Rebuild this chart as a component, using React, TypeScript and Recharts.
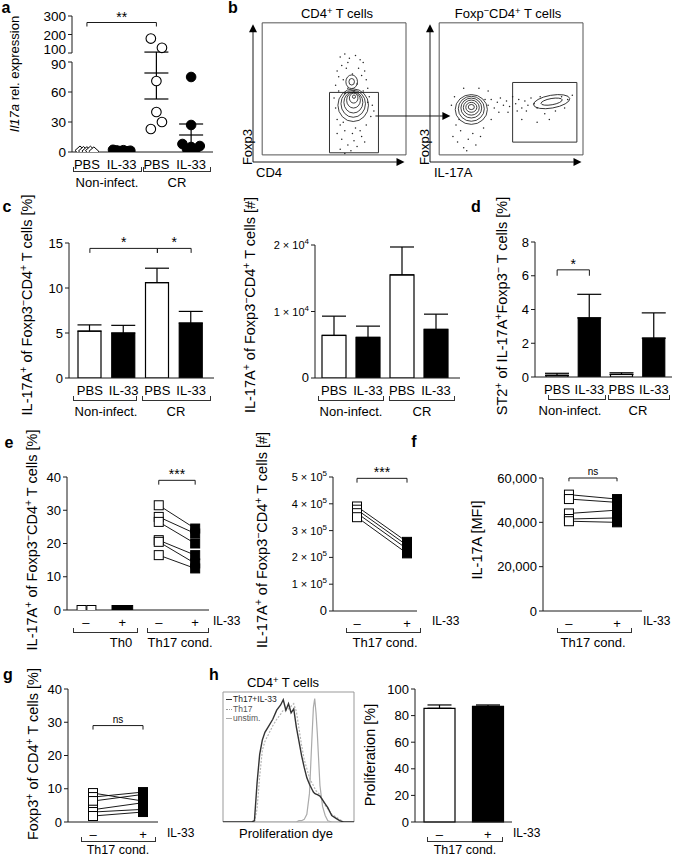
import React from 'react';
import {
  BarChart, Bar, ScatterChart, Scatter, LineChart, Line, XAxis, YAxis,
  ErrorBar, ReferenceLine, ReferenceArea, ReferenceDot, Cell,
} from 'recharts';

const FONT = '"Liberation Sans", Arial, Helvetica, sans-serif';
const INK = '#1a1a1a';
const tickStyle = { fill: '#000', fontSize: 13, fontFamily: FONT };
const catStyle = { fill: '#000', fontSize: 13, fontFamily: FONT };

// ---------------- panel a ----------------
const aCats = ['PBS', 'IL-33', 'PBS', 'IL-33'];
const aNonPBS = [1.5, 1.0, 0.8, 1.3, 0.6];
const aNonPBSOff = [-0.2, -0.1, 0, 0.1, 0.2];
const aNonIL33 = [2.2, 1.6, 1.0, 1.8, 0.8, 1.3];
const aNonIL33Off = [-0.25, -0.15, -0.05, 0.05, 0.15, 0.25];
const aCrPBS = [178, 128, 71, 40, 30, 23];
const aCrPBSOff = [-0.16, 0.16, 0, 0, 0.16, -0.16];
const aCrIL33 = [75, 27, 8, 6, 5, 3, 2];
const aCrIL33Off = [0, 0, -0.25, 0.25, 0, -0.12, 0.12];
const aMeans = [79, 17];
const aSems = [26, 11];
const aTicks = [0, 30, 60, 90, 100, 200, 300];

// ---------------- panel b (flow) ----------------
const bLeftDots = [
  [57, 74], [60, 76], [63, 73], [67, 75], [70, 72], [72, 70], [58, 68], [55, 64], [61, 66], [69, 66],
  [73, 64], [56, 60], [74, 58], [71, 61], [59, 58], [68, 55], [62, 52], [66, 50], [54, 54], [75, 52],
  [53, 45], [54, 38], [55, 30], [78, 40], [77, 32], [76, 46], [57, 26], [74, 26], [60, 22], [70, 22],
  [65, 20], [58, 16], [62, 12], [66, 15], [71, 18], [57, 9], [64, 8], [68, 11], [60, 6], [55, 20],
  [73, 14], [79, 36], [62, 70], [65, 62], [60, 48], [72, 50], [56, 50], [75, 42], [59, 28], [67, 24],
];
const bLeftRings = [
  [65.5, 40, 10, 11.5], [65.5, 41, 8, 9.5], [65.6, 42, 6.2, 7.5], [65.7, 43.5, 4.5, 5.5],
  [65.8, 45, 2.8, 3.5], [66, 46, 1, 1.2], [64.5, 56.5, 3.8, 4.8], [64.5, 56.5, 1.8, 2.3],
];
const bRightDots = [
  [38, 40], [40, 44], [42, 38], [44, 42], [46, 45], [48, 40], [50, 43], [52, 39], [54, 46], [56, 41],
  [58, 44], [60, 38], [62, 43], [64, 40], [66, 45], [45, 35], [51, 35], [57, 36], [63, 36], [68, 41],
  [15, 18], [18, 14], [20, 22], [22, 10], [25, 16], [28, 20], [30, 12], [33, 18], [17, 26], [35, 24],
  [24, 8], [19, 30], [70, 38], [72, 46], [86, 46], [90, 44], [75, 34], [82, 36], [88, 38], [93, 47],
  [78, 30], [70, 28], [60, 30], [14, 40], [16, 46], [40, 30], [38, 50], [22, 52], [32, 52], [36, 44],
];
const bRightRings = [
  [27, 37, 10.5, 10.5, 0], [27, 37.5, 8.5, 8.8, 0], [27, 38, 6.8, 7, 0], [27, 38.3, 5.2, 5.3, 0],
  [27, 38.5, 3.6, 3.5, 0], [27, 38.7, 2, 1.8, 0], [79.5, 42.5, 12, 4.5, -10], [79.5, 42.5, 7, 2.2, -10],
];

// ---------------- panel c ----------------
const cKeys = ['a', 'b', 'c', 'd'];
const cLabels = ['PBS', 'IL-33', 'PBS', 'IL-33'];
const cFills = ['#fff', '#000', '#fff', '#000'];
const cPctVals = [5.2, 5.0, 10.6, 6.1];
const cPctErr = [0.7, 0.85, 1.6, 1.3];
const cNumVals = [6400, 6100, 15500, 7300];
const cNumErr = [2900, 1700, 4200, 2300];

// ---------------- panel d ----------------
const dVals = [0.1, 3.5, 0.15, 2.3];
const dErr = [0.12, 1.4, 0.1, 1.5];

// ---------------- panel e ----------------
const eCats = ['–', '+', '–', '+'];
const eTh0Minus = [0, 0];
const eTh0MinusOff = [-0.12, 0.15];
const eTh0Plus = [0, 0, 0, 0, 0];
const eTh0PlusOff = [-0.16, -0.08, 0, 0.08, 0.16];
const eTh17Minus = [31.5, 28, 26.5, 21, 20.5, 16.5];
const eTh17Plus = [24.5, 23, 20, 16.5, 14, 12.5];
const eNumMinus = [390000, 378000, 365000, 350000];
const eNumPlus = [258000, 245000, 232000, 215000];

// ---------------- panel f ----------------
const fMinus = [52500, 50500, 44000, 41500, 40500];
const fPlus = [50500, 49000, 45500, 42000, 40000];

// ---------------- panel g ----------------
const gMinus = [8.7, 7.5, 6.3, 3.7, 3.0, 1.8];
const gPlus = [6.3, 9.0, 8.3, 5.8, 3.8, 3.0];

// ---------------- panel h ----------------
const hX = [0, 22, 24, 26, 28, 30, 32, 35, 38, 41, 44, 46, 48, 50, 52, 54, 56, 58, 60, 62, 64, 66, 68, 69, 70, 71, 72, 74, 76, 78, 80, 83, 86, 89, 92, 96, 100];
const hIL33 = [0, 0, 1, 30, 52, 63, 69, 74, 79, 86, 90, 94, 86, 91, 84, 87, 73, 62, 51, 42, 34, 29, 25, 23, 22, 21.5, 21, 20, 17, 14, 11, 5, 3, 1, 0, 0, 0];
const hTh17 = [0, 0, 0, 10, 35, 55, 62, 68, 74, 79, 83, 86, 86, 87, 89, 91, 85, 72, 59, 48, 41, 34, 30, 28, 26, 24, 23, 21, 17, 13, 10, 6, 4, 2, 0, 0, 0];
const hUnstim = [0, 0, 0, 0, 0, 0, 0, 0, 0, 0, 0, 0, 0, 0, 0, 0, 0, 1, 1, 2, 6, 22, 67, 88, 95, 84, 68, 28, 12, 5, 1, 0, 0, 0, 0, 0, 0];
const hSeries = ['Th17+IL-33', 'Th17', 'unstim.'];
const hBarCats = ['–', '+'];
const hBarVals = [85.5, 87];
const hBarErr = [2.5, 1];

// ---------------- helpers ----------------
const brk = (v: number) => (v <= 90 ? v : 99 + (v - 100) * 0.185);

const Sup = ({ c }: any) => (
  <span style={{ fontSize: '0.72em', position: 'relative', top: '-0.45em' }}>{c}</span>
);

function T({ x, y, s = 12, rot = 0, anchor = 'middle', bold = false, color = '#000', children }: any) {
  const tx = anchor === 'middle' ? '-50%' : anchor === 'end' ? '-100%' : '0';
  return (
    <div
      style={{
        position: 'absolute', left: x, top: y, whiteSpace: 'nowrap', lineHeight: 1,
        transform: `translate(${tx},-50%) rotate(${rot}deg)`, fontSize: s, fontFamily: FONT,
        fontWeight: bold ? 700 : 400, color,
      }}
    >
      {children}
    </div>
  );
}

function Brk({ x1, x2, y, h = 5 }: any) {
  return (
    <div
      style={{
        position: 'absolute', left: x1, top: y - h, width: x2 - x1, height: h, boxSizing: 'border-box',
        borderLeft: '1px solid #333', borderRight: '1px solid #333', borderBottom: '1px solid #333',
      }}
    />
  );
}

function Box({ left, top, children }: any) {
  return <div style={{ position: 'absolute', left, top }}>{children}</div>;
}

function seg(key: string, x1: any, y1: number, x2: any, y2: number, label?: any) {
  return (
    <ReferenceLine
      key={key}
      segment={[{ x: x1, y: y1 }, { x: x2, y: y2 }]}
      stroke={INK}
      strokeWidth={1}
      ifOverflow="visible"
      label={label}
    />
  );
}

function sig(id: string, x1: any, x2: any, y: number, drop: number, text: string, size = 14) {
  return [
    seg(id + 'h', x1, y, x2, y, { value: text, position: 'top', offset: text === 'ns' ? 3 : 1, fill: '#000', fontSize: size, fontFamily: FONT }),
    seg(id + 'l', x1, y, x1, y - drop),
    seg(id + 'r', x2, y, x2, y - drop),
  ];
}

const sciTick = (exp: number) => (props: any) => {
  const { x, y, payload } = props;
  const v = payload.value;
  if (v === 0) {
    return <text x={x} y={y} dy={4} textAnchor="end" fontSize={13} fontFamily={FONT} fill="#000">0</text>;
  }
  const m = Math.round(v / Math.pow(10, exp));
  return (
    <text x={x} y={y} dy={4} textAnchor="end" fontSize={11} fontFamily={FONT} fill="#000">
      {`${m} × 10`}
      <tspan dy={-5} fontSize={8}>{exp}</tspan>
    </text>
  );
};

const aTick = (props: any) => {
  const { x, y, payload } = props;
  const idx = aTicks.map(brk).indexOf(payload.value);
  const lab = aTicks[idx];
  const dy = lab === 100 ? 1 : lab === 90 ? 7 : 5;
  return <text x={x} y={y} dy={dy} textAnchor="end" fontSize={13.5} fontFamily={FONT} fill="#000">{lab}</text>;
};

const openCircle = (p: any) => <circle cx={p.cx} cy={p.cy} r={4.8} fill="#fff" stroke="#000" strokeWidth={1.1} />;
const fillCircle = (p: any) => <circle cx={p.cx} cy={p.cy} r={4.8} fill="#000" stroke="#000" strokeWidth={1} />;
const openDiamond = (p: any) => (
  <polygon
    points={`${p.cx},${p.cy - 4.5} ${p.cx + 5},${p.cy} ${p.cx},${p.cy + 4.5} ${p.cx - 5},${p.cy}`}
    fill="#fff" stroke="#000" strokeWidth={1}
  />
);
const meanLine = (p: any) => (
  <line x1={p.cx - 12} x2={p.cx + 12} y1={p.cy} y2={p.cy} stroke="#000" strokeWidth={1.2} />
);
const sqShape = (p: any) => (
  <rect x={p.cx - 4.5} y={p.cy - 4.5} width={9} height={9}
    fill={p.payload.f ? '#000' : '#fff'} stroke="#000" strokeWidth={1} />
);
const openSq = (p: any) => <rect x={p.cx - 4.5} y={p.cy - 4.5} width={9} height={9} fill="#fff" stroke="#000" strokeWidth={1} />;
const fillSq = (p: any) => <rect x={p.cx - 4.5} y={p.cy - 4.5} width={9} height={9} fill="#000" stroke="#000" strokeWidth={1} />;

const FW = 153;
const FH = 142;
const dotShape = (p: any) => <circle cx={p.cx} cy={p.cy} r={0.75} fill="#222" />;
const ringShape = (p: any) => (
  <ellipse
    cx={p.cx} cy={p.cy}
    rx={(p.payload.rx * FW) / 100} ry={(p.payload.ry * FH) / 100}
    transform={`rotate(${p.payload.rot || 0} ${p.cx} ${p.cy})`}
    fill="none" stroke="#111" strokeWidth={0.8}
  />
);
const arrowUp = (p: any) => (
  <polygon points={`${p.cx},${p.cy} ${p.cx - 4},${p.cy + 8} ${p.cx + 4},${p.cy + 8}`} fill="#000" />
);
const arrowRight = (p: any) => (
  <polygon points={`${p.cx},${p.cy} ${p.cx - 8},${p.cy - 4} ${p.cx - 8},${p.cy + 4}`} fill="#000" />
);

const toDots = (arr: number[][]) => arr.map(([x, y]) => ({ x, y }));
const toRings = (arr: number[][]) => arr.map(([x, y, rx, ry, rot]) => ({ x, y, rx, ry, rot: rot || 0 }));
const pairs = (pre: number[], post: number[], x0: number, x1: number) =>
  pre.map((v, i) => [{ x: x0, y: v, f: 0 }, { x: x1, y: post[i], f: 1 }]);
const barData = (vals: number[], errs: number[]) =>
  vals.map((v, i) => ({ k: cKeys[i], v, e: [0, errs[i]] }));
const commaFmt = (v: number) => v.toLocaleString('en-US');

function FlowPlot({ dots, rings, gate, arrowTo }: any) {
  return (
    <ScatterChart width={arrowTo ? 215 : 165} height={152}
      margin={{ top: 5, right: arrowTo ? 54 : 7, bottom: 5, left: arrowTo ? 8 : 5 }}>
      <XAxis type="number" dataKey="x" domain={[0, 100]} hide allowDataOverflow />
      <YAxis type="number" dataKey="y" domain={[0, 100]} hide allowDataOverflow />
      <ReferenceArea x1={6} x2={100} y1={5} y2={98} fill="none" stroke="#555" strokeWidth={1} ifOverflow="visible" />
      <ReferenceArea x1={gate[0]} x2={gate[1]} y1={gate[2]} y2={gate[3]} fill="none" stroke="#333" strokeWidth={1} ifOverflow="visible" />
      <Scatter data={toDots(dots)} shape={dotShape} isAnimationActive={false} />
      <Scatter data={toRings(rings)} shape={ringShape} isAnimationActive={false} />
      {seg('ya', 0, 0, 0, 92)}
      {seg('xa', 0, 0, 94, 0)}
      <ReferenceDot x={0} y={97} r={0} shape={arrowUp} ifOverflow="visible" />
      <ReferenceDot x={99} y={0} r={0} shape={arrowRight} ifOverflow="visible" />
      {arrowTo ? seg('ar', arrowTo[0], arrowTo[1], arrowTo[2] - 4, arrowTo[1]) : null}
      {arrowTo ? <ReferenceDot x={arrowTo[2]} y={arrowTo[1]} r={0} shape={arrowRight} ifOverflow="visible" /> : null}
    </ScatterChart>
  );
}

function CatBars({ width, height, yW, data, dom, ticks, barSize, pad, tick, labels, children }: any) {
  return (
    <BarChart width={width} height={height} data={data} margin={{ top: 15, right: 3, left: 0, bottom: 0 }}>
      <XAxis dataKey="k" tickFormatter={(v: any, i: number) => labels[i]} tickLine={false} stroke={INK}
        tick={catStyle} height={22} padding={pad} interval={0} />
      <YAxis domain={dom} ticks={ticks} tickSize={4} width={yW} stroke={INK} tick={tick || tickStyle}
        allowDataOverflow interval={0} />
      <Bar dataKey="v" barSize={barSize} isAnimationActive={false}>
        {data.map((d: any, i: number) => (
          <Cell key={i} fill={cFills[i]} stroke="#000" strokeWidth={1.2} />
        ))}
        <ErrorBar dataKey="e" width={12} stroke="#000" strokeWidth={1.2} direction="y" isAnimationActive={false} />
      </Bar>
      {children}
    </BarChart>
  );
}

function PairPlot({ width, height, yW, xDom, xTicks, xLabels, yDom, yTicks, tick, yFmt, pairData, children }: any) {
  return (
    <ScatterChart width={width} height={height} margin={{ top: 15, right: 3, left: 0, bottom: 0 }}>
      <XAxis type="number" dataKey="x" domain={xDom} ticks={xTicks} tickFormatter={(v: any) => xLabels[xTicks.indexOf(v)]}
        tickLine={false} stroke={INK} tick={catStyle} height={20} allowDataOverflow interval={0} />
      <YAxis type="number" dataKey="y" domain={yDom} ticks={yTicks} tickSize={4} width={yW} stroke={INK}
        tick={tick || tickStyle} tickFormatter={yFmt} allowDataOverflow interval={0} />
      {pairData.map((p: any, i: number) => (
        <Scatter key={i} data={p} shape={sqShape} line={{ stroke: '#000', strokeWidth: 0.9 }} isAnimationActive={false} />
      ))}
      {children}
    </ScatterChart>
  );
}

const yLabelPct = (
  <>IL-17A<Sup c="+" /> of Foxp3<Sup c="−" />CD4<Sup c="+" /> T cells [%]</>
);
const yLabelNum = (
  <>IL-17A<Sup c="+" /> of Foxp3<Sup c="−" />CD4<Sup c="+" /> T cells [#]</>
);
const YL = 14.5;

export default function App() {
  const aPts = (vals: number[], offs: number[], x: number) => vals.map((v, i) => ({ x: x + offs[i], y: brk(v) }));
  const aMeanData = aMeans.map((m, i) => ({
    x: i + 3,
    y: brk(m),
    err: [brk(m) - brk(m - aSems[i]), brk(m + aSems[i]) - brk(m)],
  }));
  const hData = hX.map((x, i) => ({ x, a: hIL33[i], b: hTh17[i], c: hUnstim[i] }));
  const hBar = hBarVals.map((v, i) => ({ k: cKeys[i], v, e: [0, hBarErr[i]] }));

  return (
    <div style={{ position: 'relative', width: 678, height: 857, background: '#fff', fontFamily: FONT, overflow: 'hidden' }}>
      <style>{'body{margin:0;background:#fff}'}</style>

      {/* ---------- a ---------- */}
      <T x={6} y={8} s={16} bold>a</T>
      <T x={14} y={74} s={13} rot={-90}><i>Il17a</i> rel. expression</T>
      <Box left={28} top={1}>
        <ScatterChart width={187} height={171} margin={{ top: 15, right: 2, left: 0, bottom: 0 }}>
          <XAxis type="number" dataKey="x" domain={[0.57, 4.63]} ticks={[1, 2, 3, 4]}
            tickFormatter={(v: any) => aCats[v - 1]} tickLine={false} stroke={INK} tick={catStyle}
            height={20} allowDataOverflow interval={0} />
          <YAxis type="number" dataKey="y" domain={[0, 136]} ticks={aTicks.map(brk)}
            axisLine={false} tickSize={4} width={44} stroke={INK} tick={aTick} allowDataOverflow interval={0} />
          {seg('ax1', 0.57, 0, 0.57, 90)}
          {seg('ax2', 0.57, 99, 0.57, 136)}
          <Scatter data={aPts(aNonPBS, aNonPBSOff, 1)} shape={openDiamond} isAnimationActive={false} />
          <Scatter data={aPts(aNonIL33, aNonIL33Off, 2)} shape={fillCircle} isAnimationActive={false} />
          <Scatter data={aPts(aCrPBS, aCrPBSOff, 3)} shape={openCircle} isAnimationActive={false} />
          <Scatter data={aPts(aCrIL33, aCrIL33Off, 4)} shape={fillCircle} isAnimationActive={false} />
          <Scatter data={aMeanData} shape={meanLine} isAnimationActive={false}>
            <ErrorBar dataKey="err" width={12} stroke="#000" strokeWidth={1.2} direction="y" isAnimationActive={false} />
          </Scatter>
          {sig('a1', 1, 3, 129.5, 4, '**')}
        </ScatterChart>
      </Box>
      <Brk x1={73} x2={142} y={172} />
      <Brk x1={143} x2={211} y={172} />
      <T x={107} y={182} s={13}>Non-infect.</T>
      <T x={177} y={182} s={13}>CR</T>

      {/* ---------- b ---------- */}
      <T x={233} y={8} s={16} bold>b</T>
      <T x={337} y={14} s={13}>CD4<Sup c="+" /> T cells</T>
      <T x={508} y={14} s={13}>Foxp<Sup c="−" />CD4<Sup c="+" /> T cells</T>
      <Box left={245} top={15}>
        <FlowPlot dots={bLeftDots} rings={bLeftRings} gate={[50, 82, 6.5, 49]} arrowTo={[80, 32.4, 129]} />
      </Box>
      <Box left={425} top={15}>
        <FlowPlot dots={bRightDots} rings={bRightRings} gate={[54, 96, 14, 56]} />
      </Box>
      <T x={247} y={147} s={13} rot={-90}>Foxp3</T>
      <T x={424} y={147} s={13} rot={-90}>Foxp3</T>
      <T x={256} y={172} s={13} anchor="start">CD4</T>
      <T x={434} y={172} s={13} anchor="start">IL-17A</T>

      {/* ---------- c ---------- */}
      <T x={7} y={207} s={16} bold>c</T>
      <T x={27} y={305} s={YL} rot={-90}>{yLabelPct}</T>
      <Box left={39} top={228}>
        <CatBars width={178} height={172} yW={30} data={barData(cPctVals, cPctErr)} dom={[0, 15]}
          ticks={[0, 5, 10, 15]} barSize={23} pad={{ left: 4, right: 6 }} labels={cLabels}>
          {sig('c1', 'a', 'c', 14.4, 0.5, '*')}
          {sig('c2', 'c', 'd', 14.4, 0.5, '*')}
        </CatBars>
      </Box>
      <Brk x1={73} x2={137} y={401} />
      <Brk x1={142} x2={211} y={401} />
      <T x={106} y={411} s={13}>Non-infect.</T>
      <T x={176} y={411} s={13}>CR</T>

      <T x={250} y={305} s={YL} rot={-90}>{yLabelNum}</T>
      <Box left={267} top={230}>
        <CatBars width={196} height={170} yW={48} data={barData(cNumVals, cNumErr)} dom={[0, 20000]}
          ticks={[0, 10000, 20000]} tick={sciTick(4)} barSize={24} pad={{ left: 2, right: 7 }} labels={cLabels} />
      </Box>
      <Brk x1={318} x2={384} y={401} />
      <Brk x1={389} x2={455} y={401} />
      <T x={351} y={411} s={13}>Non-infect.</T>
      <T x={422} y={411} s={13}>CR</T>

      {/* ---------- d ---------- */}
      <T x={476} y={207} s={16} bold>d</T>
      <T x={502} y={306} s={YL} rot={-90}>ST2<Sup c="+" /> of IL-17A<Sup c="+" />Foxp3<Sup c="−" /> T cells [%]</T>
      <Box left={513} top={227}>
        <CatBars width={162} height={172} yW={22} data={barData(dVals, dErr)} dom={[0, 8]}
          ticks={[0, 2, 4, 6, 8]} barSize={22} pad={{ left: 6, right: 2 }} labels={cLabels}>
          {sig('d1', 'a', 'b', 6.35, 0.35, '*')}
        </CatBars>
      </Box>
      <Brk x1={548} x2={606} y={400} />
      <Brk x1={608} x2={670} y={400} />
      <T x={570} y={410} s={13}>Non-infect.</T>
      <T x={638} y={410} s={13}>CR</T>

      {/* ---------- e ---------- */}
      <T x={9} y={443} s={16} bold>e</T>
      <T x={32} y={540} s={YL} rot={-90}>{yLabelPct}</T>
      <Box left={39} top={462}>
        <PairPlot width={173} height={168} yW={28} xDom={[0.48, 4.38]} xTicks={[1, 2, 3, 4]} xLabels={eCats}
          yDom={[0, 40]} yTicks={[0, 10, 20, 30, 40]} pairData={pairs(eTh17Minus, eTh17Plus, 3, 4)}>
          <Scatter data={eTh0Minus.map((v, i) => ({ x: 1 + eTh0MinusOff[i], y: v }))} shape={openSq} isAnimationActive={false} />
          <Scatter data={eTh0Plus.map((v, i) => ({ x: 2 + eTh0PlusOff[i], y: v }))} shape={fillSq} isAnimationActive={false} />
          {sig('e1', 3, 4, 39, 1.3, '***')}
        </PairPlot>
      </Box>
      <T x={213} y={621} s={12} anchor="start">IL-33</T>
      <Brk x1={73} x2={138} y={633} />
      <Brk x1={147} x2={209} y={633} />
      <T x={121} y={642} s={13}>Th0</T>
      <T x={180} y={642} s={13}>Th17 cond.</T>

      <T x={262} y={540} s={YL} rot={-90}>{yLabelNum}</T>
      <Box left={283} top={462}>
        <PairPlot width={137} height={169} yW={50} xDom={[0.52, 2.2]} xTicks={[1, 2]} xLabels={['–', '+']}
          yDom={[0, 500000]} yTicks={[0, 100000, 200000, 300000, 400000, 500000]} tick={sciTick(5)}
          pairData={pairs(eNumMinus, eNumPlus, 1, 2)}>
          {sig('e2', 1, 2, 495000, 16000, '***')}
        </PairPlot>
      </Box>
      <T x={432} y={621} s={12} anchor="start">IL-33</T>
      <Brk x1={346} x2={421} y={633} />
      <T x={385} y={642} s={13}>Th17 cond.</T>

      {/* ---------- f ---------- */}
      <T x={414} y={442} s={16} bold>f</T>
      <T x={477} y={540} s={YL} rot={-90}>IL-17A [MFI]</T>
      <Box left={493} top={463}>
        <PairPlot width={152} height={168} yW={50} xDom={[0.46, 2.52]} xTicks={[1, 2]} xLabels={['–', '+']}
          yDom={[0, 60000]} yTicks={[0, 20000, 40000, 60000]} yFmt={commaFmt}
          pairData={pairs(fMinus, fPlus, 1, 2)}>
          {sig('f1', 1, 2, 60000, 1500, 'ns', 10)}
        </PairPlot>
      </Box>
      <T x={643} y={621} s={12} anchor="start">IL-33</T>
      <Brk x1={557} x2={632} y={633} />
      <T x={593} y={642} s={13}>Th17 cond.</T>

      {/* ---------- g ---------- */}
      <T x={8} y={675} s={16} bold>g</T>
      <T x={33} y={754} s={YL} rot={-90}>Foxp3<Sup c="+" /> of CD4<Sup c="+" /> T cells [%]</T>
      <Box left={40} top={674}>
        <PairPlot width={121} height={168} yW={28} xDom={[0.5, 2.3]} xTicks={[1, 2]} xLabels={['–', '+']}
          yDom={[0, 40]} yTicks={[0, 10, 20, 30, 40]} pairData={pairs(gMinus, gPlus, 1, 2)}>
          {sig('g1', 1, 2, 29, 1.2, 'ns', 10)}
        </PairPlot>
      </Box>
      <T x={167} y={833} s={12} anchor="start">IL-33</T>
      <Brk x1={81} x2={156} y={842} />
      <T x={118} y={850} s={12.5}>Th17 cond.</T>

      {/* ---------- h ---------- */}
      <T x={214} y={675} s={16} bold>h</T>
      <T x={283} y={683} s={13}>CD4<Sup c="+" /> T cells</T>
      <Box left={222} top={691}>
        <LineChart width={134} height={132} data={hData} margin={{ top: 1, right: 2, left: 1, bottom: 1 }}>
          <XAxis type="number" dataKey="x" domain={[0, 100]} hide allowDataOverflow />
          <YAxis domain={[0, 100]} hide allowDataOverflow />
          <ReferenceArea x1={0} x2={100} y1={0} y2={100} fill="none" stroke="#999" strokeWidth={1} ifOverflow="visible" />
          <Line type="linear" dataKey="c" name={hSeries[2]} stroke="#aaa" strokeWidth={1.2} dot={false} isAnimationActive={false} />
          <Line type="linear" dataKey="b" name={hSeries[1]} stroke="#b5b5b5" strokeWidth={1.2} strokeDasharray="2 1.5" dot={false} isAnimationActive={false} />
          <Line type="linear" dataKey="a" name={hSeries[0]} stroke="#333" strokeWidth={1.4} dot={false} isAnimationActive={false} />
        </LineChart>
      </Box>
      <div style={{ position: 'absolute', left: 226, top: 695, fontFamily: FONT, fontSize: 8.5, lineHeight: '9.5px', color: '#222' }}>
        <div><span style={{ display: 'inline-block', width: 6, borderTop: '1.5px solid #333', verticalAlign: 'middle', marginRight: 1 }} />{hSeries[0]}</div>
        <div style={{ color: '#555' }}><span style={{ display: 'inline-block', width: 6, borderTop: '1px dotted #999', verticalAlign: 'middle', marginRight: 1 }} />{hSeries[1]}</div>
        <div style={{ color: '#555' }}><span style={{ display: 'inline-block', width: 6, borderTop: '1.2px solid #aaa', verticalAlign: 'middle', marginRight: 1 }} />{hSeries[2]}</div>
      </div>
      <T x={286} y={833} s={13}>Proliferation dye</T>

      <T x={370} y={755} s={YL} rot={-90}>Proliferation [%]</T>
      <Box left={383} top={674}>
        <BarChart width={132} height={168} data={hBar} margin={{ top: 15, right: 3, left: 0, bottom: 0 }}>
          <XAxis dataKey="k" tickFormatter={(v: any, i: number) => hBarCats[i]} tickLine={false} stroke={INK}
            tick={catStyle} height={20} interval={0} />
          <YAxis domain={[0, 100]} ticks={[0, 20, 40, 60, 80, 100]} tickSize={4} width={32} stroke={INK}
            tick={tickStyle} interval={0} />
          <Bar dataKey="v" barSize={31} isAnimationActive={false}>
            {hBar.map((d, i) => (
              <Cell key={i} fill={cFills[i]} stroke="#000" strokeWidth={1.2} />
            ))}
            <ErrorBar dataKey="e" width={12} stroke="#000" strokeWidth={1.2} direction="y" isAnimationActive={false} />
          </Bar>
        </BarChart>
      </Box>
      <T x={513} y={833} s={12} anchor="start">IL-33</T>
      <Brk x1={427} x2={503} y={842} />
      <T x={465} y={850} s={12.5}>Th17 cond.</T>
    </div>
  );
}
